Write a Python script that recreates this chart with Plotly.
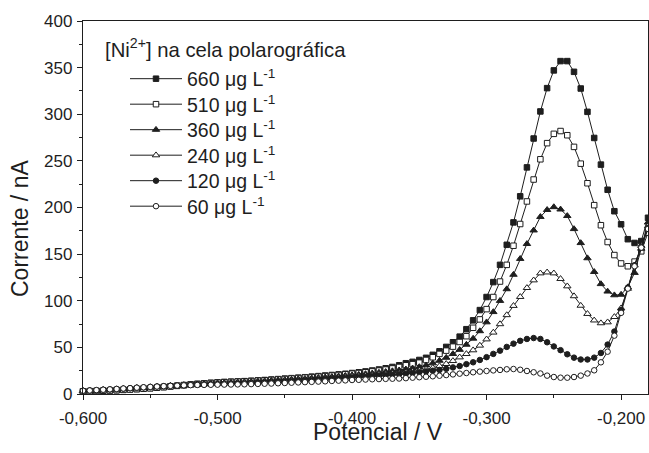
import plotly.graph_objects as go

# Potential grid (V), -0.600 ... -0.180 in 5 mV steps
potencial = [round(-0.600 + 0.005 * i, 3) for i in range(85)]

c660 = [2.8, 3.0, 3.2, 3.5, 3.8, 4.1, 4.5, 4.9, 5.3, 5.8,
        6.3, 6.9, 7.5, 8.2, 8.9, 9.6, 10.3, 10.9, 11.5, 12.0,
        12.5, 12.9, 13.2, 13.5, 13.8, 14.2, 14.6, 15.0, 15.5, 16.0,
        16.5, 17.0, 17.5, 18.0, 18.6, 19.2, 19.8, 20.4, 21.0, 21.7,
        22.5, 23.3, 24.2, 25.2, 26.3, 27.6, 29.0, 30.8, 33.0, 34.5,
        36.5, 38.8, 42.0, 45.8, 50.5, 55.5, 61.5, 69.5, 79.0, 90.0,
        104, 120, 138.5, 160, 184, 212, 243, 274, 303, 328,
        347, 357, 357, 345.5, 327.6, 302.6, 274.6, 246, 219, 196,
        182, 166, 162, 164, 189]

c510 = [2.8, 3.0, 3.2, 3.5, 3.8, 4.1, 4.4, 4.8, 5.2, 5.6,
        6.1, 6.7, 7.3, 8.0, 8.7, 9.4, 10.1, 10.7, 11.3, 11.8,
        12.3, 12.7, 13.0, 13.3, 13.6, 13.9, 14.3, 14.7, 15.1, 15.6,
        16.1, 16.6, 17.1, 17.6, 18.1, 18.6, 19.2, 19.8, 20.4, 21.1,
        21.8, 22.5, 23.3, 24.2, 25.1, 26.2, 27.4, 29.0, 30.8, 32.0,
        33.6, 36.5, 39.4, 43.0, 46.5, 50.8, 55.8, 62.0, 71.0, 80.0,
        91.0, 104, 120.6, 138.5, 159, 182.3, 206.5, 230, 251.7, 269,
        279, 282, 277.5, 265, 247, 226, 202.5, 181, 163, 149,
        140, 137, 142, 153, 173]

c360 = [3.2, 3.5, 3.9, 4.3, 4.7, 5.1, 5.5, 6.0, 6.4, 6.9,
        7.3, 7.8, 8.3, 8.8, 9.3, 9.7, 10.1, 10.5, 10.9, 11.3,
        11.7, 12.0, 12.3, 12.6, 12.9, 13.2, 13.5, 13.9, 14.3, 14.7,
        15.1, 15.5, 16.0, 16.4, 16.9, 17.4, 17.9, 18.4, 19.0, 19.6,
        20.2, 20.8, 21.5, 22.2, 23.0, 23.8, 24.6, 25.5, 26.5, 27.6,
        29.0, 30.8, 33.0, 35.8, 39.0, 43.0, 47.5, 53.0, 59.5, 67.5,
        77, 88, 100, 112.5, 128, 145, 161, 175.5, 190, 197.5,
        200.5, 198, 191, 177, 162, 145.7, 131, 118, 110, 106,
        106.6, 114.6, 130, 156, 184]

c240 = [3.3, 3.6, 4.0, 4.4, 4.8, 5.2, 5.6, 6.0, 6.5, 7.0,
        7.4, 7.9, 8.3, 8.8, 9.2, 9.6, 10.0, 10.3, 10.6, 10.9,
        11.2, 11.5, 11.7, 11.9, 12.2, 12.5, 12.8, 13.1, 13.5, 13.9,
        14.3, 14.7, 15.1, 15.5, 15.9, 16.3, 16.8, 17.2, 17.7, 18.2,
        18.8, 19.3, 19.8, 20.3, 20.8, 21.4, 22.0, 22.6, 23.3, 24.2,
        25.2, 26.4, 28.0, 30.0, 32.3, 35.5, 39.4, 43.0, 47.0, 52.0,
        58.7, 66.0, 75.0, 84.7, 94.6, 104.2, 113.8, 122, 129.5, 130.5,
        129.5, 123.5, 115.6, 105, 94.8, 86, 79, 76, 77, 82.7,
        92, 113, 138, 159, 180]

c120 = [3.5, 3.8, 4.1, 4.5, 4.9, 5.3, 5.7, 6.2, 6.6, 7.1,
        7.5, 8.0, 8.4, 8.8, 9.2, 9.5, 9.8, 10.1, 10.3, 10.5,
        10.7, 10.9, 11.1, 11.3, 11.6, 11.9, 12.2, 12.5, 12.8, 13.1,
        13.5, 13.9, 14.3, 14.7, 15.1, 15.5, 15.9, 16.3, 16.7, 17.1,
        17.6, 18.0, 18.5, 19.0, 19.5, 20.0, 20.6, 21.2, 21.8, 22.6,
        23.3, 24.2, 25.0, 25.8, 27.0, 28.5, 30.0, 32.0, 34.0, 36.5,
        39.5, 43.0, 46.5, 50.5, 54.0, 57.0, 59.0, 60.0, 59.0, 55.5,
        51.0, 47.0, 42.6, 39.0, 37.0, 37.0, 39.0, 44.0, 53.0, 67.0,
        90, 114, 138, 158, 178]

c60 = [3.5, 3.8, 4.2, 4.6, 5.0, 5.4, 5.9, 6.3, 6.8, 7.2,
       7.6, 8.0, 8.4, 8.7, 9.0, 9.3, 9.5, 9.7, 9.8, 9.9,
       10.0, 10.1, 10.2, 10.3, 10.4, 10.6, 10.8, 11.0, 11.2, 11.5,
       11.8, 12.1, 12.4, 12.7, 13.0, 13.3, 13.6, 14.0, 14.3, 14.6,
       15.0, 15.2, 15.5, 15.8, 16.0, 16.2, 16.4, 16.6, 17.0, 17.5,
       18.0, 18.5, 19.0, 19.6, 20.3, 21.0, 21.8, 22.5, 23.3, 24.0,
       24.7, 25.3, 25.8, 26.5, 26.8, 26.0, 24.7, 23.3, 22.0, 19.7,
       18.2, 17.5, 17.5, 18.2, 19.7, 22.0, 25.4, 34.0, 45.4, 62.6,
       87, 113, 137, 157, 177]

series_names = ["660 μg L<sup>-1</sup>", "510 μg L<sup>-1</sup>", "360 μg L<sup>-1</sup>",
                "240 μg L<sup>-1</sup>", "120 μg L<sup>-1</sup>", "60 μg L<sup>-1</sup>"]
series_values = [c660, c510, c360, c240, c120, c60]
series_symbols = ["square", "square", "triangle-up", "triangle-up", "circle", "circle"]
series_filled = [True, False, True, False, True, False]

x_tickvals = [-0.6, -0.5, -0.4, -0.3, -0.2]
x_ticktext = ["-0,600", "-0,500", "-0,400", "-0,300", "-0,200"]
y_tickvals = [0, 50, 100, 150, 200, 250, 300, 350, 400]

legend_title = "[Ni<sup>2+</sup>] na cela polarográfica"
x_title = "Potencial / V"
y_title = "Corrente / nA"

INK = "#1e1e1e"
# Plot-area geometry in pixels (used to place legend entries)
PLOT_TOP, PLOT_BOTTOM, PLOT_LEFT, PLOT_W = 21, 394, 83, 565
def py(p):
    return (PLOT_BOTTOM - p) / (PLOT_BOTTOM - PLOT_TOP)
def px(p):
    return (p - PLOT_LEFT) / PLOT_W

legend_rows = [79, 104.5, 130, 155.5, 181, 206.5]

fig = go.Figure()
layout_legends = {}
for i, (name, vals, sym, filled) in enumerate(zip(series_names, series_values,
                                                   series_symbols, series_filled)):
    key = "legend" if i == 0 else f"legend{i + 1}"
    fig.add_trace(go.Scatter(
        x=potencial, y=vals, name=name, mode="lines+markers",
        line=dict(color=INK, width=1),
        marker=dict(symbol=sym, size=5.5 if "triangle" not in sym else 6.5,
                    color=INK if filled else "white",
                    line=dict(color=INK, width=1)),
        cliponaxis=False, legend=key,
    ))
    layout_legends[key] = dict(x=px(125), y=py(legend_rows[i]), xanchor="left",
                               yanchor="middle", bgcolor="rgba(0,0,0,0)",
                               font=dict(size=19.5, color=INK), itemwidth=52,
                               borderwidth=0)

axis_common = dict(showgrid=False, zeroline=False, showline=True, linecolor=INK,
                   linewidth=1.3, mirror=True, ticks="outside", ticklen=5,
                   tickwidth=1.2, tickcolor=INK,
                   tickfont=dict(size=17, color=INK))

fig.update_xaxes(range=[-0.6, -0.18], tickmode="array", tickvals=x_tickvals,
                 ticktext=x_ticktext, ticklabelstandoff=3,
                 minor=dict(ticks="outside", ticklen=3, tickwidth=1.2, tickcolor=INK,
                            tick0=-0.6, dtick=0.05),
                 **axis_common)
fig.update_yaxes(range=[0, 400], tickmode="array", tickvals=y_tickvals,
                 ticklabelstandoff=1,
                 minor=dict(ticks="outside", ticklen=3, tickwidth=1.2, tickcolor=INK,
                            tick0=0, dtick=25),
                 **axis_common)

fig.update_layout(
    width=649, height=453,
    margin=dict(l=83, r=1, t=21, b=59),
    paper_bgcolor="white", plot_bgcolor="white",
    font=dict(family="Liberation Sans, Arial, sans-serif", color=INK),
    showlegend=True,
    annotations=[
        dict(text=legend_title, xref="paper", yref="paper",
             x=px(103), y=py(48), xanchor="left", yanchor="middle", showarrow=False,
             font=dict(size=20.3, color=INK)),
        dict(text=x_title, xref="paper", yref="paper", x=px(378), y=py(432),
             xanchor="center", yanchor="middle", showarrow=False,
             font=dict(size=23, color=INK)),
        dict(text=y_title, xref="paper", yref="paper", x=px(20), y=py(229),
             xanchor="center", yanchor="middle", textangle=-90, showarrow=False,
             font=dict(size=23, color=INK)),
    ],
    **layout_legends,
)

fig.write_html("out.html",
               config={"displayModeBar": False},
               post_script="document.body.style.margin='0px';"
                           "document.body.style.overflow='hidden';")
